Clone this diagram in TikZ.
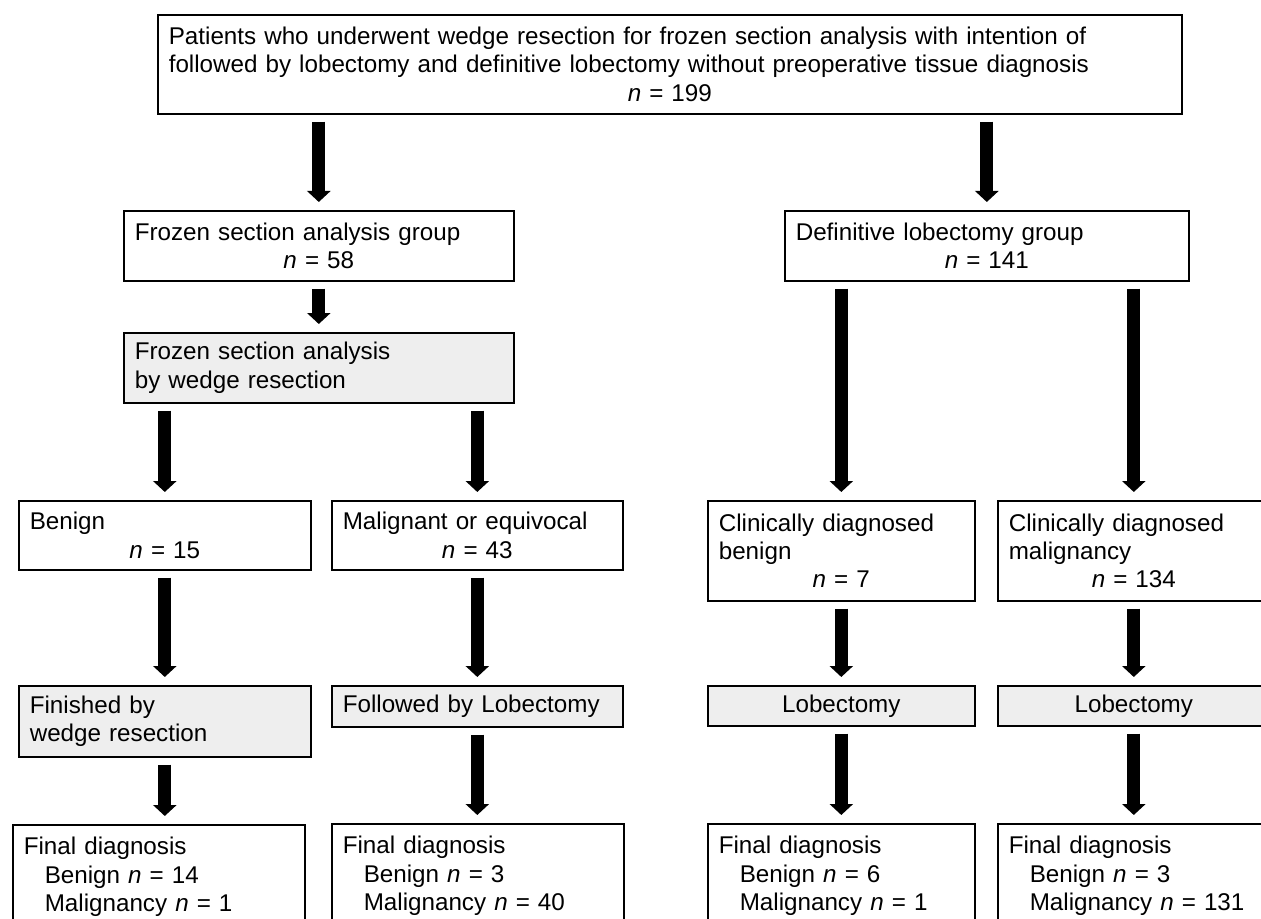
\documentclass[tikz,border=0pt]{standalone}
\usepackage{fontspec}
\setmainfont{Liberation Sans}
\usepackage{tikz}
\usetikzlibrary{arrows.meta}
\definecolor{boxgray}{RGB}{238,238,238}
\newcommand{\fs}{\fontsize{12.1pt}{14.2pt}\selectfont}
\newcommand{\nline}[1]{\makebox[\linewidth][c]{\textit{n} = #1}}
\newcommand{\indline}[1]{\hspace*{10.5pt}#1}
\tikzstyle{box}=[draw, line width=0.8pt, anchor=north west, inner xsep=5.5pt, inner ysep=0pt, align=left, font=\fs]
\tikzstyle{shaded}=[box, fill=boxgray]
\tikzstyle{flow}=[-{Triangle[width=11.5pt,length=5.5pt]}, line width=6.5pt, shorten <=3.5pt, shorten >=4pt]

\begin{document}
\begin{tikzpicture}[x=0.5pt,y=-0.5pt]
  \useasboundingbox (0,0) rectangle (1261,919);
  % top
  \node[box, text width=501pt, minimum height=49.5pt] at (157,14) (top) {Patients who underwent wedge resection for frozen section analysis with intention of\\followed by lobectomy and definitive lobectomy without preoperative tissue diagnosis\\\nline{199}};
  % groups
  \node[box, text width=184pt, minimum height=35pt] at (123,210) (fsag) {Frozen section analysis group\\\nline{58}};
  \node[box, text width=191pt, minimum height=35pt] at (784,210) (defg) {Definitive lobectomy group\\\nline{141}};
  \node[shaded, text width=184pt, minimum height=35pt] at (123,332) (fsaw) {Frozen section analysis\\by wedge resection};
  % diagnosis
  \node[box, text width=135pt, minimum height=34.5pt] at (18,500) (ben) {Benign\\\nline{15}};
  \node[box, text width=134.5pt, minimum height=34.5pt] at (331,500) (mal) {Malignant or equivocal\\\nline{43}};
  \node[box, text width=122.5pt, minimum height=50pt] at (707,500) (clb) {Clinically diagnosed\\benign\\\nline{7}};
  \node[box, text width=125pt, minimum height=50pt] at (997,500) (clm) {Clinically diagnosed\\malignancy\\\nline{134}};
  % procedure
  \node[shaded, text width=135pt, minimum height=35.5pt] at (18,685) (fin) {Finished by\\wedge resection};
  \node[shaded, text width=134.5pt, minimum height=20.5pt] at (331,685) (fol) {Followed by Lobectomy};
  \node[shaded, align=center, text width=122.5pt, minimum height=20pt] at (707,685) (lob1) {Lobectomy};
  \node[shaded, align=center, text width=125pt, minimum height=20pt] at (997,685) (lob2) {Lobectomy};
  % final diagnosis
  \node[box, text width=135pt, minimum height=52pt] at (12,824) (fd1) {Final diagnosis\\\indline{Benign \textit{n} = 14}\\\indline{Malignancy \textit{n} = 1}};
  \node[box, text width=135pt, minimum height=52pt] at (331,823) (fd2) {Final diagnosis\\\indline{Benign \textit{n} = 3}\\\indline{Malignancy \textit{n} = 40}};
  \node[box, text width=122.5pt, minimum height=52pt] at (707,823) (fd3) {Final diagnosis\\\indline{Benign \textit{n} = 6}\\\indline{Malignancy \textit{n} = 1}};
  \node[box, text width=125pt, minimum height=52pt] at (997,823) (fd4) {Final diagnosis\\\indline{Benign \textit{n} = 3}\\\indline{Malignancy \textit{n} = 131}};
  % arrows
  \draw[flow] (fsag.north |- top.south) -- (fsag.north);
  \draw[flow] (defg.north |- top.south) -- (defg.north);
  \draw[flow] (fsag) -- (fsaw);
  \draw[flow] (ben.north |- fsaw.south) -- (ben.north);
  \draw[flow] (mal.north |- fsaw.south) -- (mal.north);
  \draw[flow] (clb.north |- defg.south) -- (clb.north);
  \draw[flow] (clm.north |- defg.south) -- (clm.north);
  \draw[flow] (ben) -- (fin);
  \draw[flow] (mal) -- (fol);
  \draw[flow] (clb) -- (lob1);
  \draw[flow] (clm) -- (lob2);
  \draw[flow] (fin.south) -- (fin.south |- fd1.north);
  \draw[flow] (fol.south) -- (fol.south |- fd2.north);
  \draw[flow] (lob1) -- (fd3);
  \draw[flow] (lob2) -- (fd4);
\end{tikzpicture}
\end{document}
